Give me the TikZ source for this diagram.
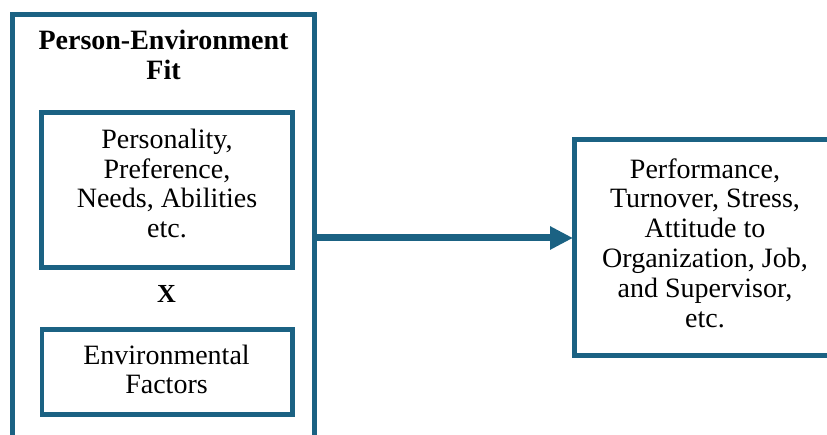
\documentclass[tikz,border=0pt]{standalone}
\usepackage{fontspec}
\setmainfont{Liberation Serif}
\usetikzlibrary{arrows.meta}
\definecolor{frame}{RGB}{27,98,131}
\begin{document}
\begin{tikzpicture}[x=1pt,y=1pt,
  box/.style={draw=frame,rectangle,inner sep=0pt,outer sep=0pt},
  txt/.style={align=center,inner sep=0pt,font=\fontsize{28}{29.8}\selectfont},
  btxt/.style={txt,font=\fontsize{28}{30}\selectfont\bfseries}]
\useasboundingbox (0,0) rectangle (827,435);
% outer box (extends beyond bottom)
\node[box,line width=5pt,minimum width=302pt,minimum height=445.5pt] (outer) at (163.5,197.75) {};
\node[box,line width=4.5pt,minimum width=251pt,minimum height=155pt] (pbox) at (167,245) {};
\node[box,line width=4.5pt,minimum width=250.5pt,minimum height=85pt] (ebox) at (167.25,63) {};
\node[box,line width=5pt,minimum width=305.5pt,minimum height=216pt] (rbox) at (727.25,187.5) {};
% texts
\node[btxt] (title) at (163.5,380.5) {Person-Environment\\Fit};
\node[txt] (ptxt) at (167,251.5) {Personality,\\Preference,\\Needs, Abilities\\etc.};
\node[btxt,font=\fontsize{26}{28}\selectfont\bfseries,anchor=base] (x) at (166.5,132) {X};
\node[txt] (etxt) at (166.5,65.5) {Environmental\\Factors};
\node[txt] (rtxt) at (705,192) {Performance,\\Turnover, Stress,\\Attitude to\\Organization, Job,\\and Supervisor,\\etc.};
% arrow
\coordinate (ay) at (0,197);
\draw[frame,line width=7pt,-{Triangle[length=23pt,width=22pt]}] (outer.east |- ay) -- ([xshift=-1.5pt]rbox.west |- ay);
\end{tikzpicture}
\end{document}
